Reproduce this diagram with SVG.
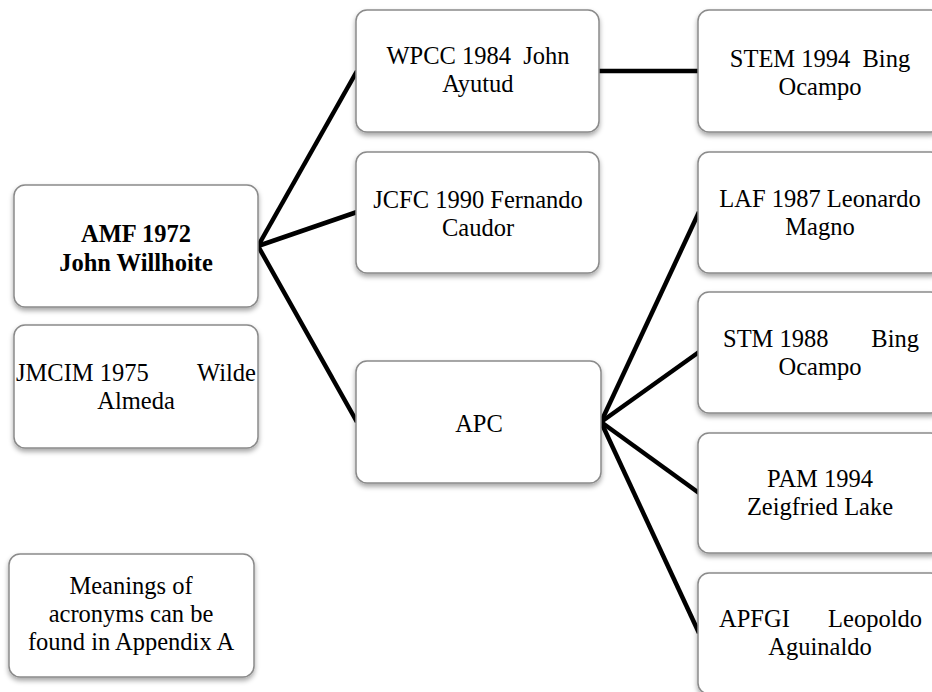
<svg xmlns="http://www.w3.org/2000/svg" width="932" height="692" viewBox="0 0 932 692">
<defs>
<filter id="sh" x="-10%" y="-10%" width="120%" height="130%">
<feDropShadow dx="0" dy="3" stdDeviation="2.5" flood-color="#000" flood-opacity="0.35"/>
</filter>
<style>
.box{fill:#fff;stroke:#8a8a8a;stroke-width:1.5;filter:url(#sh)}
.t{font-family:"Liberation Serif","Times New Roman",serif;font-size:24.5px;fill:#000;text-anchor:middle}
.b{font-weight:bold}
.c{stroke:#000;stroke-width:4.5;fill:none;stroke-linecap:butt}
</style>
</defs>
<rect width="932" height="692" fill="#fff"/>
<g id="connectors">
<line class="c" x1="258" y1="246" x2="357" y2="71"/>
<line class="c" x1="258" y1="246" x2="357" y2="212"/>
<line class="c" x1="258" y1="246" x2="357" y2="422"/>
<line class="c" x1="599" y1="71" x2="699" y2="71"/>
<line class="c" x1="601" y1="422" x2="699" y2="212"/>
<line class="c" x1="601" y1="422" x2="699" y2="352"/>
<line class="c" x1="601" y1="422" x2="699" y2="493"/>
<line class="c" x1="601" y1="422" x2="699" y2="633"/>
</g>
<g id="amf">
<rect class="box" x="14" y="185" width="244" height="122" rx="11"/>
<text class="t b"><tspan x="136" y="242">AMF 1972</tspan><tspan x="136" y="271">John Willhoite</tspan></text>
</g>
<g id="jmcim">
<rect class="box" x="14" y="325" width="244" height="123" rx="11"/>
<text class="t"><tspan x="16" y="381" text-anchor="start">JMCIM 1975</tspan><tspan x="256" y="381" text-anchor="end">Wilde</tspan><tspan x="136" y="409">Almeda</tspan></text>
</g>
<g id="note">
<rect class="box" x="9" y="554" width="245" height="123" rx="11"/>
<text class="t"><tspan x="131" y="594">Meanings of</tspan><tspan x="131" y="622">acronyms can be</tspan><tspan x="131" y="650">found in Appendix A</tspan></text>
</g>
<g id="wpcc">
<rect class="box" x="356" y="10" width="243" height="122" rx="11"/>
<text class="t"><tspan x="478" y="64" xml:space="preserve">WPCC 1984  John</tspan><tspan x="478" y="92">Ayutud</tspan></text>
</g>
<g id="jcfc">
<rect class="box" x="356" y="152" width="243" height="121" rx="11"/>
<text class="t"><tspan x="478" y="208">JCFC 1990 Fernando</tspan><tspan x="478" y="236">Caudor</tspan></text>
</g>
<g id="apc">
<rect class="box" x="356" y="361" width="245" height="122" rx="11"/>
<text class="t"><tspan x="479" y="432">APC</tspan></text>
</g>
<g id="stem">
<rect class="box" x="698" y="10" width="244" height="122" rx="11"/>
<text class="t"><tspan x="820" y="67" xml:space="preserve">STEM 1994  Bing</tspan><tspan x="820" y="95">Ocampo</tspan></text>
</g>
<g id="laf">
<rect class="box" x="698" y="152" width="244" height="121" rx="11"/>
<text class="t"><tspan x="820" y="207">LAF 1987 Leonardo</tspan><tspan x="820" y="235">Magno</tspan></text>
</g>
<g id="stm">
<rect class="box" x="698" y="292" width="244" height="121" rx="11"/>
<text class="t"><tspan x="723" y="347" text-anchor="start">STM 1988</tspan><tspan x="919" y="347" text-anchor="end">Bing</tspan><tspan x="820" y="375">Ocampo</tspan></text>
</g>
<g id="pam">
<rect class="box" x="698" y="433" width="244" height="120" rx="11"/>
<text class="t"><tspan x="820" y="487">PAM 1994</tspan><tspan x="820" y="515">Zeigfried Lake</tspan></text>
</g>
<g id="apfgi">
<rect class="box" x="698" y="573" width="244" height="121" rx="11"/>
<text class="t"><tspan x="719" y="627" text-anchor="start">APFGI</tspan><tspan x="922" y="627" text-anchor="end">Leopoldo</tspan><tspan x="820" y="655">Aguinaldo</tspan></text>
</g>
</svg>
